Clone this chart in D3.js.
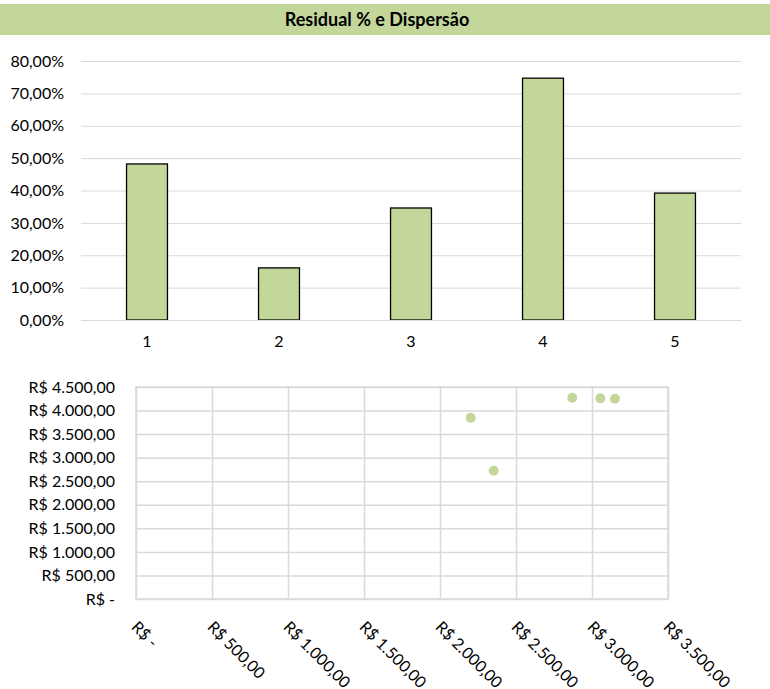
<!DOCTYPE html>
<meta charset="utf-8">
<body style="margin:0">
<script src="https://d3js.org/d3.v7.min.js"></script>
<script>

var width = 770,
    height = 689;

// dados
var categorias = ["1", "2", "3", "4", "5"];
var residual = [0.482, 0.161, 0.346, 0.747, 0.392];
var pctTicks = [0, 0.1, 0.2, 0.3, 0.4, 0.5, 0.6, 0.7, 0.8];

var dispX = [2870, 3055, 3151, 2202, 2353];
var dispY = [4272, 4259, 4251, 3848, 2723];
var moneyTicksX = [0, 500, 1000, 1500, 2000, 2500, 3000, 3500];
var moneyTicksY = [0, 500, 1000, 1500, 2000, 2500, 3000, 3500, 4000, 4500];

var verde = "#c4d79b",
    grade = "#d9d9d9",
    fonte = "Lato, 'Noto Sans', sans-serif";

var svg = d3.select("body").append("svg")
    .attr("width", width)
    .attr("height", height)
    .style("font-family", fonte);

// faixa do titulo
svg.append("rect")
    .attr("x", 0).attr("y", 4)
    .attr("width", width).attr("height", 31)
    .attr("fill", verde);
svg.append("text")
    .attr("x", 377).attr("y", 26)
    .attr("text-anchor", "middle")
    .style("font-weight", "bold")
    .style("font-size", "18px")
    .text("Residual % e Dispersão");

var pct = function(v) { return d3.format(".2f")(v * 100).replace(".", ",") + "%"; };
var real = function(v) {
    if (v === 0) return "R$ -";
    var s = d3.format(",.2f")(v);
    return "R$ " + s.replace(/,/g, "#").replace(".", ",").replace(/#/g, ".");
};

// ---- grafico de barras ----
var x = d3.scaleBand().domain(categorias).range([81, 741]).paddingInner(0.69).paddingOuter(0.345);
var y = d3.scaleLinear().domain([0, 0.8]).range([320, 61]);

var gy = svg.append("g")
    .attr("transform", "translate(81,0)")
    .call(d3.axisLeft(y).tickValues(pctTicks).tickFormat(pct).tickSize(-660).tickPadding(17));
gy.select(".domain").remove();
gy.selectAll("line").attr("stroke", grade);
gy.selectAll("text").style("font-size", "16px").style("font-family", fonte).attr("fill", "#000");

svg.selectAll("rect.bar")
    .data(residual)
    .enter().append("rect")
        .attr("class", "bar")
        .attr("x", (d, i) => x(categorias[i]))
        .attr("y", d => y(d))
        .attr("width", x.bandwidth())
        .attr("height", d => y(0) - y(d))
        .attr("fill", verde)
        .attr("stroke", "#000")
        .attr("stroke-width", 1.3);

var gx = svg.append("g")
    .attr("transform", "translate(0,320)")
    .call(d3.axisBottom(x).tickSize(0).tickPadding(16));
gx.select(".domain").attr("stroke", grade);
gx.selectAll("text").style("font-size", "16px").style("font-family", fonte).attr("fill", "#000");

// ---- dispersao ----
var sx = d3.scaleLinear().domain([0, 3500]).range([136, 668]);
var sy = d3.scaleLinear().domain([0, 4500]).range([599, 387]);

var gsy = svg.append("g")
    .attr("transform", "translate(136,0)")
    .call(d3.axisLeft(sy).tickValues(moneyTicksY).tickFormat(real).tickSize(-532).tickPadding(21));
gsy.select(".domain").remove();
gsy.selectAll("line").attr("stroke", grade).attr("stroke-width", 1.5);
gsy.selectAll("text").style("font-size", "16px").style("font-family", fonte).attr("fill", "#000");

var gsx = svg.append("g")
    .attr("transform", "translate(0,599)")
    .call(d3.axisBottom(sx).tickValues(moneyTicksX).tickFormat(real).tickSize(-212));
gsx.select(".domain").remove();
gsx.selectAll("line").attr("stroke", grade).attr("stroke-width", 1.5);
gsx.selectAll("text")
    .style("font-size", "16px").style("font-family", fonte).attr("fill", "#000")
    .attr("text-anchor", "start")
    .attr("dy", null)
    .attr("y", 0)
    .attr("transform", "translate(-6,29) rotate(45)");

svg.append("rect")
    .attr("x", 136).attr("y", 387)
    .attr("width", 532).attr("height", 212)
    .attr("fill", "none")
    .attr("stroke", grade)
    .attr("stroke-width", 1.5);

svg.selectAll("circle")
    .data(dispX)
    .enter().append("circle")
        .attr("cx", d => sx(d))
        .attr("cy", (d, i) => sy(dispY[i]))
        .attr("r", 5)
        .attr("fill", verde);

</script>
